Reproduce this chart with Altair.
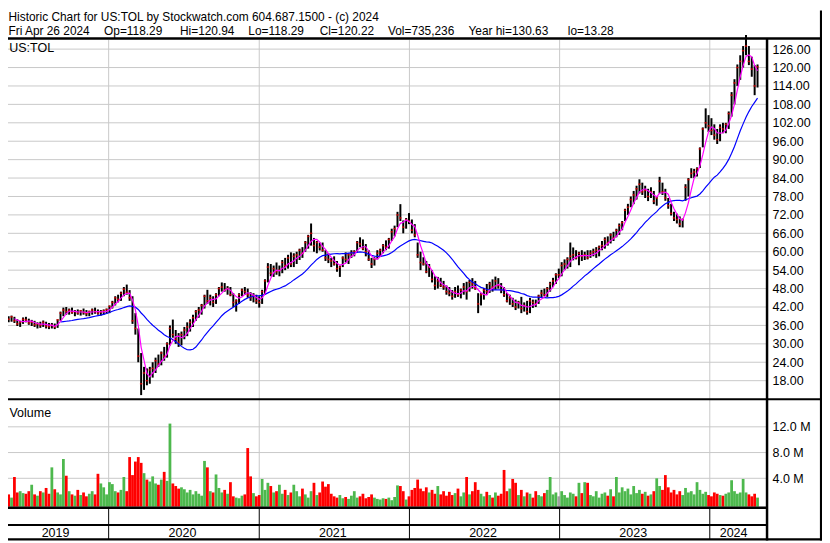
import altair as alt
import pandas as pd

# ---------------- data (weekly) ----------------
start_date = "2019-04-26"

lows = [
    37.5, 37.0, 37.2, 36.8, 35.8, 35.5, 36.5, 37.0, 36.2, 35.8,
    35.5, 35.0, 35.2, 35.5, 35.0, 34.8, 35.0, 34.8, 35.2, 37.5,
    39.0, 39.5, 39.5, 39.8, 39.0, 39.5, 39.2, 39.5, 39.0, 39.0,
    39.5, 39.8, 39.5, 39.2, 39.5, 39.8, 40.0, 41.5, 42.5, 43.5,
    44.0, 45.5, 46.0, 44.0, 36.5, 33.0, 24.0, 13.3, 15.0, 16.5,
    17.0, 19.0, 20.5, 22.5, 23.0, 24.5, 25.5, 29.5, 32.0, 30.0,
    29.0, 29.5, 31.5, 32.5, 34.0, 35.5, 37.5, 38.5, 39.5, 41.5,
    43.0, 42.5, 42.0, 43.0, 45.5, 47.0, 47.0, 46.0, 45.5, 42.0,
    40.5, 43.0, 45.5, 46.0, 45.0, 44.0, 43.5, 43.0, 41.8, 43.0,
    46.0, 50.0, 52.0, 51.8, 52.5, 52.0, 53.0, 54.0, 54.5, 55.0,
    55.0, 56.0, 57.3, 58.0, 60.0, 61.0, 62.0, 60.0, 59.5, 60.4,
    60.0, 57.0, 56.3, 55.0, 55.5, 53.5, 51.8, 55.0, 56.5, 56.0,
    58.0, 58.5, 60.0, 61.5, 60.5, 58.5, 57.0, 54.7, 55.5, 57.5,
    58.5, 59.5, 60.5, 61.0, 63.5, 65.0, 68.0, 70.0, 66.0, 67.5,
    69.0, 66.0, 64.7, 58.0, 54.0, 55.5, 53.0, 51.8, 50.0, 47.6,
    48.0, 48.5, 47.6, 46.0, 45.5, 44.4, 45.0, 45.3, 44.8, 46.0,
    44.4, 47.0, 48.0, 47.6, 40.0, 42.5, 44.4, 46.0, 46.6, 47.0,
    47.6, 48.0, 46.5, 45.3, 43.5, 42.7, 42.0, 41.0, 41.5, 40.0,
    40.5, 39.5, 40.0, 41.7, 42.0, 43.0, 45.0, 45.5, 45.3, 47.0,
    48.5, 49.5, 51.4, 52.0, 54.0, 54.5, 55.0, 57.2, 57.5, 55.6,
    57.0, 57.3, 57.5, 58.0, 58.5, 58.0, 58.5, 60.5, 61.0, 62.0,
    62.7, 63.5, 64.7, 65.5, 67.0, 70.0, 72.0, 74.5, 75.5, 77.0,
    79.0, 78.5, 77.5, 76.5, 77.5, 75.5, 75.0, 79.0, 78.5, 76.6,
    74.0, 71.8, 70.0, 69.2, 68.0, 67.9, 76.6, 78.0, 84.0, 84.0,
    84.5, 87.3, 94.0, 100.2, 99.0, 98.0, 96.5, 95.1, 96.0, 98.6,
    98.6, 100.0, 104.0, 108.0, 114.0, 116.0, 120.0, 124.0, 120.8, 117.0,
    111.0, 113.5,
]

highs = [
    39.5, 39.0, 39.2, 38.8, 38.0, 37.5, 38.6, 38.8, 38.2, 37.8,
    37.5, 37.0, 37.2, 37.6, 37.2, 36.8, 36.8, 36.6, 38.0, 40.5,
    41.8, 42.0, 41.5, 41.8, 41.0, 41.2, 41.0, 41.5, 41.0, 40.8,
    41.5, 41.8, 41.2, 41.0, 41.2, 41.5, 42.5, 44.0, 45.5, 46.0,
    47.0, 48.5, 49.3, 47.5, 45.5, 40.0, 35.0, 27.0, 22.5, 22.0,
    22.5, 24.0, 25.5, 26.5, 27.5, 29.0, 30.5, 36.0, 37.9, 34.5,
    33.5, 34.0, 35.5, 37.0, 38.0, 39.5, 41.0, 42.0, 43.0, 46.0,
    47.6, 46.0, 45.5, 46.5, 48.5, 50.0, 49.8, 48.8, 48.5, 46.5,
    44.5, 46.5, 48.0, 48.5, 48.0, 46.8, 46.5, 46.0, 45.5, 47.6,
    51.0, 56.3, 56.0, 55.5, 56.5, 55.5, 57.3, 58.0, 59.0, 59.8,
    59.5, 60.0, 61.0, 61.5, 63.5, 65.5, 69.2, 64.5, 63.5, 63.0,
    63.0, 60.5, 59.5, 58.0, 58.5, 57.0, 55.5, 58.5, 59.8, 59.5,
    60.5, 60.5, 63.5, 64.7, 64.0, 62.5, 60.5, 58.0, 58.2, 60.5,
    61.0, 62.5, 63.7, 64.5, 67.5, 68.5, 73.0, 75.5, 70.2, 71.0,
    72.6, 70.5, 69.0, 63.0, 60.0, 58.2, 57.0, 56.0, 54.0, 52.0,
    51.8, 51.5, 50.5, 49.0, 48.5, 47.5, 48.5, 49.0, 48.0, 49.8,
    50.2, 50.8, 51.4, 50.5, 46.5, 46.5, 48.2, 49.5, 50.2, 51.0,
    51.9, 51.4, 49.8, 48.5, 46.6, 46.0, 45.0, 44.4, 44.0, 45.3,
    43.5, 44.0, 45.0, 44.4, 44.4, 46.0, 47.6, 48.0, 48.5, 50.2,
    51.5, 53.0, 54.5, 56.6, 57.5, 58.2, 63.0, 61.4, 60.5, 60.0,
    60.5, 60.0, 60.5, 60.5, 61.0, 61.5, 62.0, 63.5, 64.7, 65.0,
    66.0, 66.5, 67.5, 69.2, 70.0, 74.0, 75.6, 78.0, 79.8, 81.5,
    83.6, 82.5, 81.5, 80.5, 81.0, 79.8, 78.0, 84.4, 82.5, 80.5,
    77.5, 75.6, 73.0, 72.4, 71.5, 70.8, 82.0, 84.0, 87.2, 87.0,
    87.5, 94.0, 100.5, 106.7, 104.5, 103.5, 101.5, 100.0, 101.5, 102.0,
    102.0, 105.7, 112.0, 116.2, 121.0, 124.0, 127.0, 130.6, 127.0, 123.5,
    120.8, 121.0,
]

closes = [
    38.5, 38.0, 38.8, 37.5, 36.5, 37.0, 38.0, 37.8, 36.8, 37.0,
    36.2, 36.5, 36.0, 37.0, 35.8, 35.6, 36.0, 35.5, 37.8, 40.0,
    41.0, 40.5, 41.0, 40.2, 40.5, 40.0, 40.8, 40.2, 39.8, 40.5,
    41.0, 40.5, 40.0, 40.3, 40.8, 41.2, 42.2, 43.5, 45.0, 44.5,
    46.5, 47.8, 46.8, 45.0, 37.5, 35.0, 26.0, 17.0, 20.5, 18.0,
    21.5, 22.0, 24.5, 23.5, 27.0, 26.0, 30.0, 35.0, 33.0, 31.5,
    30.5, 33.0, 34.5, 35.5, 37.0, 38.5, 40.5, 41.0, 42.5, 45.5,
    44.0, 45.0, 43.5, 46.0, 48.0, 48.5, 47.5, 48.0, 46.0, 43.5,
    44.0, 46.0, 47.5, 47.0, 46.0, 45.0, 45.5, 44.0, 43.5, 47.0,
    50.5, 55.0, 53.0, 54.5, 53.5, 54.0, 56.5, 55.5, 58.0, 56.0,
    58.5, 59.0, 60.5, 59.5, 63.0, 65.0, 66.0, 62.0, 63.0, 61.5,
    60.5, 58.0, 57.5, 57.0, 56.0, 54.5, 55.0, 58.0, 57.5, 59.0,
    59.5, 60.0, 63.0, 62.5, 61.0, 60.0, 57.5, 56.0, 57.5, 59.5,
    60.5, 62.0, 61.5, 64.0, 66.5, 67.5, 72.0, 71.0, 68.0, 70.5,
    70.0, 67.0, 65.5, 59.0, 56.5, 56.0, 53.5, 55.0, 51.0, 49.0,
    50.5, 49.0, 48.5, 47.0, 46.5, 45.5, 47.0, 46.0, 47.5, 48.5,
    47.0, 50.0, 49.5, 48.0, 43.0, 46.0, 47.5, 47.0, 49.5, 48.5,
    50.5, 49.0, 47.5, 46.0, 44.0, 45.0, 43.0, 42.0, 43.5, 41.5,
    42.5, 40.5, 44.0, 43.5, 43.0, 45.5, 46.5, 46.0, 48.0, 49.5,
    50.5, 52.5, 52.5, 55.5, 56.0, 57.5, 58.5, 59.0, 58.0, 59.5,
    58.5, 59.0, 58.0, 59.5, 60.0, 60.5, 61.5, 62.0, 64.0, 63.0,
    65.5, 64.5, 67.0, 68.5, 69.5, 73.5, 74.5, 77.0, 78.5, 80.5,
    82.0, 79.5, 80.0, 78.0, 79.5, 76.5, 77.5, 83.0, 79.5, 77.5,
    75.0, 72.5, 71.0, 70.5, 69.0, 70.5, 81.0, 83.5, 85.5, 86.0,
    87.0, 93.5, 100.0, 102.0, 101.0, 99.5, 98.0, 96.5, 100.5, 100.0,
    101.5, 105.0, 111.0, 115.0, 120.0, 122.0, 125.5, 127.0, 122.0, 119.5,
    114.0, 120.22,
]

volumes_m = [
    1.2, 1.5, 1.0, 4.2, 1.8, 2.0, 1.7, 1.6, 2.0, 3.0,
    1.5, 1.3, 2.0, 1.8, 2.5, 1.6, 5.7, 2.3, 1.8, 1.5,
    7.0, 4.4, 2.0, 1.5, 1.3, 2.2, 1.4, 1.8, 1.2, 1.6,
    2.0, 1.5, 4.7, 3.2, 2.6, 1.5, 3.4, 3.1, 2.0, 1.8,
    2.2, 4.2, 2.0, 7.3, 4.5, 6.6, 7.3, 6.4, 4.8, 3.8,
    3.5, 4.3, 3.2, 3.0, 3.8, 5.0, 3.6, 12.5, 3.2, 2.8,
    2.4, 2.6, 2.3, 1.8, 2.2, 1.5, 2.0, 1.6, 1.3, 6.7,
    5.7, 2.0, 1.8, 4.6, 2.5, 1.8, 2.2, 1.6, 3.4, 1.2,
    1.0, 0.9, 1.3, 1.5, 8.7, 4.3, 1.7, 1.2, 1.4, 3.9,
    2.2, 3.3, 2.8, 1.8, 2.0, 3.0, 1.6, 2.2, 1.4, 1.8,
    3.0, 2.0, 1.2, 2.4, 1.5, 1.0, 2.0, 3.3, 1.4, 1.8,
    3.5, 2.7, 3.1, 1.6, 1.2, 1.0, 1.4, 0.9, 1.1, 0.8,
    1.3, 2.0, 1.0, 1.2, 1.6, 0.9, 1.1, 1.5, 1.0, 0.8,
    0.7, 0.9, 0.8, 1.0, 0.6, 1.1, 2.9, 2.8, 2.0, 0.7,
    1.2, 2.2, 2.5, 3.8, 2.4, 2.0, 2.6, 1.8, 2.2, 1.6,
    2.8, 1.5, 2.0, 1.3, 1.9, 1.4, 1.7, 2.4, 1.2, 1.8,
    4.2, 1.5, 2.0, 3.4, 2.2, 1.6, 1.2, 1.9, 1.4, 1.0,
    1.8, 1.3, 1.6, 5.3, 2.0, 2.4, 3.9, 3.3, 1.4, 2.2,
    1.2, 1.8, 1.6, 1.0, 2.0, 1.4, 1.2, 1.7, 2.2, 4.2,
    1.5, 1.8, 1.2, 2.0, 1.4, 1.0, 1.8, 1.6, 1.2, 3.3,
    1.7, 3.4, 3.3, 1.4, 1.2, 2.0, 1.0, 1.6, 1.8, 1.3,
    2.3, 1.2, 4.2, 1.8, 2.6, 2.0, 2.4, 1.5, 2.8, 1.7,
    2.2, 1.6, 1.9, 1.3, 1.5, 2.0, 4.0, 2.8, 2.2, 4.5,
    2.6, 1.8, 2.2, 1.5, 2.0, 1.4, 2.5, 1.8, 2.0, 1.5,
    3.4, 2.2, 1.6, 1.9, 1.4, 1.2, 1.8, 1.6, 1.4, 1.3,
    1.6, 1.8, 3.7, 2.0, 1.6, 1.8, 3.9, 1.8, 1.5, 1.2,
    1.6, 1.0,
]

price_ticks = [18, 24, 30, 36, 42, 48, 54, 60, 66, 72, 78, 84, 90, 96,
               102, 108, 114, 120, 126]
price_tick_labels = ["18.00", "24.00", "30.00", "36.00", "42.00", "48.00",
                     "54.00", "60.00", "66.00", "72.00", "78.00", "84.00",
                     "90.00", "96.00", "102.00", "108.00", "114.00",
                     "120.00", "126.00"]
vol_ticks = [4, 8, 12]
vol_tick_labels = ["4.0 M", "8.0 M", "12.0 M"]
year_bounds = ["2019-04-25", "2020-01-01", "2021-01-01", "2022-01-01",
               "2023-01-01", "2024-01-01", "2024-05-03"]
year_labels = ["2019", "2020", "2021", "2022", "2023", "2024"]

header_title = "Historic Chart for US:TOL by Stockwatch.com 604.687.1500 - (c) 2024"
header_fields = ["Fri Apr 26 2024", "Op=118.29", "Hi=120.94", "Lo=118.29",
                 "Cl=120.22", "Vol=735,236", "Year hi=130.63", "lo=13.28"]
header_field_x = [0.5, 97, 173.7, 242.7, 314.7, 383.7, 465, 565.3]
symbol_label = "US:TOL"
volume_label = "Volume"

# ---------------- tables ----------------
dates = pd.date_range(start_date, periods=len(closes), freq="7D").strftime("%Y-%m-%d")
df = pd.DataFrame({"date": dates, "low": lows, "high": highs,
                   "close": closes, "vol": volumes_m})
prev = df["close"].shift(1)
df["dir"] = "up"
df.loc[df["close"] < prev, "dir"] = "down"
df.loc[df["close"] == prev, "dir"] = "flat"

ticks_df = pd.DataFrame({"p": price_ticks, "lab": price_tick_labels})
vticks_df = pd.DataFrame({"v": vol_ticks, "lab": vol_tick_labels})
bounds = pd.to_datetime(year_bounds)
years_df = pd.DataFrame({
    "mid": (bounds[:-1] + (bounds[1:] - bounds[:-1]) / 2).strftime("%Y-%m-%dT%H:%M:%S"),
    "lab": year_labels,
})
ysep_df = pd.DataFrame({"d": year_bounds[1:-1]})
hdr_df = pd.DataFrame({"t": header_fields, "hx": header_field_x})

# ---------------- scales ----------------
FONT = "Liberation Sans"
GRID = "#C8C8C8"
HDR_SIZE = 12
xscale = alt.Scale(type="utc", domain=["2019-04-25", "2024-05-03"], range=[-7.66, 764.8])
pscale = alt.Scale(domain=[18, 126], range=[373.7, 38.9], zero=False, nice=False)
vscale = alt.Scale(domain=[0, 12], range=[498.3, 420.3], zero=False, nice=False)

X = alt.X("date:T", scale=xscale, axis=None)
one = pd.DataFrame({"a": [0]})


def hline(y, x1, x2, w, color="black"):
    return alt.Chart(one).mark_rule(color=color, strokeWidth=w).encode(
        x=alt.value(x1), x2=alt.value(x2), y=alt.value(y))


def vline(x, y1, y2, w, color="black"):
    return alt.Chart(one).mark_rule(color=color, strokeWidth=w).encode(
        x=alt.value(x), y=alt.value(y1), y2=alt.value(y2))


# gridlines
pgrid = alt.Chart(ticks_df).mark_rule(color=GRID, strokeWidth=1).encode(
    y=alt.Y("p:Q", scale=pscale, axis=None), x=alt.value(-8), x2=alt.value(765.5))
vgrid = alt.Chart(vticks_df).mark_rule(color=GRID, strokeWidth=1).encode(
    y=alt.Y("v:Q", scale=vscale, axis=None), x=alt.value(-8), x2=alt.value(765.5))
xgrid = alt.Chart(ysep_df).mark_rule(color=GRID, strokeWidth=1).encode(
    x=alt.X("d:T", scale=xscale, axis=None), y=alt.value(29.5), y2=alt.value(501))
xsep = alt.Chart(ysep_df).mark_rule(color="black", strokeWidth=1).encode(
    x=alt.X("d:T", scale=xscale, axis=None), y=alt.value(502), y2=alt.value(534))

# volume bars
vbars = alt.Chart(df).mark_bar(width=2.8).encode(
    x=X,
    y=alt.Y("vol:Q", scale=vscale, axis=None),
    y2=alt.Y2(datum=-0.4),
    color=alt.Color("dir:N", scale=alt.Scale(domain=["up", "down", "flat"],
                                             range=["#4DB84D", "#FF0000", "#A0A0A0"]),
                    legend=None),
)

# price bars
hl = alt.Chart(df).mark_rule(color="black", strokeWidth=2.0).encode(
    x=X, y=alt.Y("low:Q", scale=pscale, axis=None), y2="high:Q")
cl = alt.Chart(df).mark_tick(color="#FF0000", orient="horizontal", size=2.5,
                             thickness=1.5).encode(
    x=X, y=alt.Y("close:Q", scale=pscale, axis=None))

# moving averages (computed from closes)
ma_short = alt.Chart(df).transform_window(
    ma="mean(close)", rn="row_number()", frame=[-3, 0], sort=[alt.SortField("date")]
).transform_filter("datum.rn >= 4").mark_line(color="#FF00FF", strokeWidth=1.2).encode(
    x=X, y=alt.Y("ma:Q", scale=pscale, axis=None))
ma_long = alt.Chart(df).transform_window(
    ma="mean(close)", rn="row_number()", frame=[-19, 0], sort=[alt.SortField("date")]
).transform_filter("datum.rn >= 20").mark_line(color="#0000FF", strokeWidth=1.2).encode(
    x=X, y=alt.Y("ma:Q", scale=pscale, axis=None))

# axis labels
plabels = alt.Chart(ticks_df).mark_text(align="left", baseline="alphabetic", dy=4.5,
                                        font=FONT, fontSize=12.6, color="black").encode(
    y=alt.Y("p:Q", scale=pscale, axis=None), x=alt.value(772), text="lab:N")
vlabels = alt.Chart(vticks_df).mark_text(align="left", baseline="alphabetic", dy=4.5,
                                         font=FONT, fontSize=12.6, color="black").encode(
    y=alt.Y("v:Q", scale=vscale, axis=None), x=alt.value(772), text="lab:N")
ylabels = alt.Chart(years_df).mark_text(align="center", baseline="alphabetic", dx=-1.5,
                                        font=FONT, fontSize=12.6, color="black").encode(
    x=alt.X("mid:T", scale=xscale, axis=None), y=alt.value(531.3), text="lab:N")

title1 = alt.Chart(pd.DataFrame({"t": [header_title]})).mark_text(
    align="left", baseline="alphabetic", font=FONT, fontSize=HDR_SIZE, color="black").encode(
    x=alt.value(0.5), y=alt.value(10.9), text="t:N")
title2 = alt.Chart(hdr_df).mark_text(
    align="left", baseline="alphabetic", font=FONT, fontSize=HDR_SIZE, color="black").encode(
    x=alt.X("hx:Q", scale=None), y=alt.value(24.4), text="t:N")
sym = alt.Chart(pd.DataFrame({"t": [symbol_label]})).mark_text(
    align="left", baseline="alphabetic", font=FONT, fontSize=12.6, color="black").encode(
    x=alt.value(1.3), y=alt.value(41.3), text="t:N")
volt = alt.Chart(pd.DataFrame({"t": [volume_label]})).mark_text(
    align="left", baseline="alphabetic", font=FONT, fontSize=12.6, color="black").encode(
    x=alt.value(1.5), y=alt.value(410.3), text="t:N")

frames = [
    hline(28.2, 0, 822, 2.5),      # header bottom
    hline(392.5, 0, 822, 2),       # price / volume separator
    hline(502, 0, 766, 2.4),       # volume bottom
    hline(519.5, 0, 766, 2),       # strip separator
    hline(534, 0, 822, 2.2),       # bottom border
    vline(766.5, 28, 535, 2.5),    # axis column separator
    vline(821, 0, 535, 2.2),       # right border
]

chart = alt.layer(
    pgrid, vgrid, xgrid, xsep, vbars, hl, cl, ma_long, ma_short,
    *frames, plabels, vlabels, ylabels, title1, title2, sym, volt,
).resolve_scale(y="independent", x="shared").properties(
    width=822, height=535, padding=0,
    autosize=alt.AutoSizeParams(type="none"),
    background="white",
).configure_view(stroke=None)

chart.save("out.html", embed_options={"renderer": "svg", "actions": False})
